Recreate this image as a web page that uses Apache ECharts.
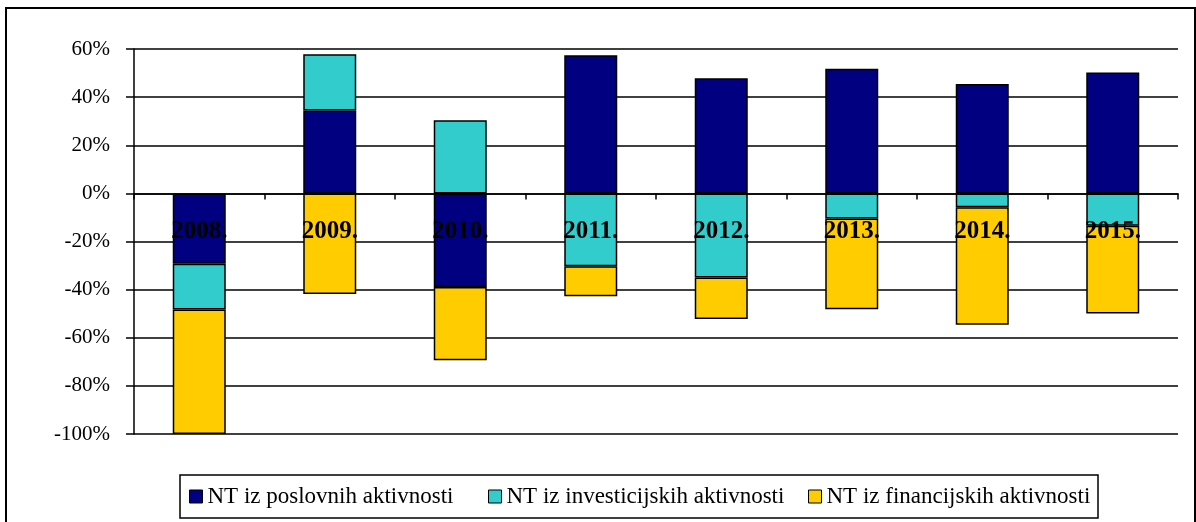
<!DOCTYPE html>
<html>
<head>
<meta charset="utf-8">
<script src="https://cdn.jsdelivr.net/npm/echarts@6/dist/echarts.min.js"></script>
<style>
  html, body { margin: 0; padding: 0; background: #fff; }
  #chart { width: 1196px; height: 522px; }
</style>
</head>
<body>
<div id="chart"></div>
<script>
// godine
const years = ['2008.', '2009.', '2010.', '2011.', '2012.', '2013.', '2014.', '2015.'];
// udjeli u %
const poslovne = [-29.2, 34.4, -38.9, 57.4, 47.8, 51.8, 45.5, 50.2];
const investicijske = [-19.1, 23.4, 30.4, -30.3, -35.0, -10.4, -5.8, -13.5];
const financijske = [-51.7, -41.8, -30.5, -12.5, -17.2, -37.8, -48.8, -36.4];
const seriesNames = ['NT iz poslovnih aktivnosti', 'NT iz investicijskih aktivnosti', 'NT iz financijskih aktivnosti'];
const colors = ['#000080', '#33CCCC', '#FFCC00'];

const font = 'Liberation Serif, Times New Roman, serif';
const chart = echarts.init(document.getElementById('chart'));

const mkBar = (name, data, color) => ({
  name,
  type: 'bar',
  stack: 'nt',
  data,
  barWidth: 53,
  itemStyle: { color, borderColor: '#000', borderWidth: 1.5 },
  emphasis: { disabled: true },
});

const mkLegend = (name, left) => ({
  data: [name],
  left,
  top: 485,
  padding: 0,
  icon: 'rect',
  itemWidth: 13,
  itemHeight: 13,
  itemGap: 6,
  selectedMode: false,
  itemStyle: { borderColor: '#000', borderWidth: 1 },
  textStyle: { fontFamily: font, fontSize: 23, color: '#000' },
});

chart.setOption({
  animation: false,
  backgroundColor: '#fff',
  graphic: [
    { type: 'rect', shape: { x: 6, y: 8, width: 1189, height: 530 }, style: { fill: null, stroke: '#000', lineWidth: 2 } },
    { type: 'rect', shape: { x: 180, y: 475, width: 918, height: 43 }, style: { fill: null, stroke: '#000', lineWidth: 1.5 } },
  ],
  legend: [
    mkLegend(seriesNames[0], 189),
    mkLegend(seriesNames[1], 488),
    mkLegend(seriesNames[2], 808),
  ],
  grid: { left: 134, right: 18, top: 49, bottom: 88 },
  xAxis: [
    {
      type: 'category',
      data: years,
      z: 10,
      axisLine: { onZero: true, lineStyle: { color: '#000', width: 1.5 } },
      axisTick: { show: true, length: 6, lineStyle: { color: '#000', width: 1.5 } },
      axisLabel: { show: false },
      splitLine: { show: false },
    },
    {
      // oznake godina uz liniju 0 %
      type: 'category',
      data: years,
      position: 'bottom',
      offset: -240,
      z: 12,
      axisLine: { show: false },
      axisTick: { show: false },
      axisLabel: { margin: 25, fontFamily: font, fontSize: 25, fontWeight: 'bold', color: '#000' },
      splitLine: { show: false },
    },
  ],
  yAxis: {
    type: 'value',
    min: -100,
    max: 60,
    interval: 20,
    axisLine: { show: true, lineStyle: { color: '#000', width: 1.5 } },
    axisTick: { show: true, length: 8, lineStyle: { color: '#000', width: 1.5 } },
    axisLabel: { margin: 24, formatter: '{value}%', fontFamily: font, fontSize: 21, color: '#000' },
    splitLine: { show: true, lineStyle: { color: '#000', width: 1.5 } },
  },
  series: [
    mkBar(seriesNames[0], poslovne, colors[0]),
    mkBar(seriesNames[1], investicijske, colors[1]),
    mkBar(seriesNames[2], financijske, colors[2]),
  ],
});
</script>
</body>
</html>
